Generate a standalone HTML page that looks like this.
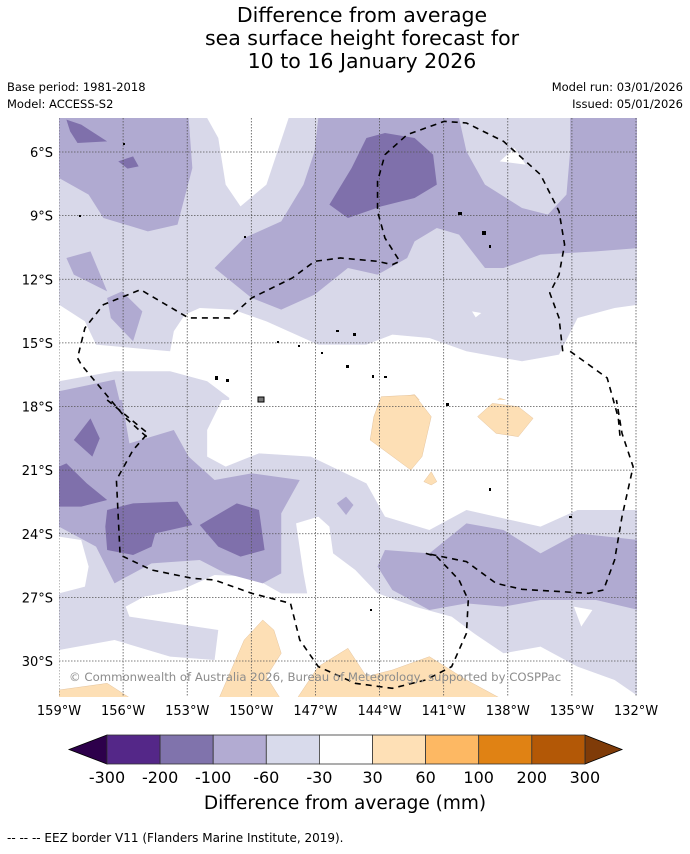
<!DOCTYPE html>
<html><head><meta charset="utf-8"><style>
body{margin:0;background:#fff;width:690px;height:850px;overflow:hidden;font-family:"DejaVu Sans","Liberation Sans",sans-serif;}
svg text{font-family:"DejaVu Sans","Liberation Sans",sans-serif;}
.cond{font-family:"DejaVu Sans Condensed","DejaVu Sans","Liberation Sans",sans-serif;}
</style></head><body>
<svg id="chart" width="690" height="850" xmlns="http://www.w3.org/2000/svg">
<g font-size="20.5" text-anchor="middle" fill="#000">
<text x="362" y="22">Difference from average</text>
<text x="362" y="45">sea surface height forecast for</text>
<text x="362" y="68">10 to 16 January 2026</text>
</g>
<g font-size="11.5" fill="#000">
<text x="7" y="91">Base period: 1981-2018</text>
<text x="7" y="108">Model: ACCESS-S2</text>
<text x="683" y="91" text-anchor="end">Model run: 03/01/2026</text>
<text x="683" y="108" text-anchor="end">Issued: 05/01/2026</text>
</g>
<defs><clipPath id="mapclip"><rect x="59" y="118" width="578" height="579"/></clipPath></defs>
<g clip-path="url(#mapclip)">
<rect x="59" y="118" width="578" height="579" fill="#d8d8e9"/>
<g transform="translate(59,118) scale(0.3704,0.3333)">
<g fill="#fff">
<polygon points="400,0 620,0 560,200 490,265 450,200 430,60"/>
<polygon points="1230,90 1260,140 1190,130"/>
<polygon points="1115,580 1140,585 1125,598"/>
<polygon points="0,560 70,610 100,680 200,690 300,700 310,640 340,590 380,570 470,575 560,610 700,680 830,680 900,650 1000,660 1100,700 1250,730 1350,710 1400,600 1500,570 1565,560 1565,960 440,960 460,840 400,790 300,760 150,760 0,790"/>
</g>
<g fill="#b0aad1">
<polygon points="0,0 350,0 360,150 320,320 240,340 120,300 80,230 0,180"/>
<polygon points="700,0 1080,0 1100,100 1150,200 1250,270 1320,290 1370,230 1380,100 1380,0 1565,0 1565,390 1450,400 1300,410 1200,450 1150,450 1080,350 1020,330 960,370 940,420 860,470 780,450 690,530 600,575 520,540 420,450 500,360 600,310 660,200 690,100"/>
<polygon points="20,420 85,400 130,520 40,470"/>
<polygon points="130,540 170,520 225,580 200,670 140,600"/>
<polygon points="0,820 150,785 175,900 0,900"/>
</g>
<g fill="#7f70ab">
<polygon points="20,5 60,20 130,70 50,75 30,40"/>
<polygon points="160,130 200,115 215,145 185,152"/>
<polygon points="830,60 880,45 960,60 1010,110 1020,200 960,240 870,265 780,300 730,260 790,150"/>
</g>
<g fill="#fddfb5" stroke="#d9b48a" stroke-width="1" vector-effect="non-scaling-stroke">
<polygon points="850,900 900,840 960,830 1000,880 1005,900"/>
<polygon points="1130,900 1190,840 1240,860 1280,900"/>
</g>
</g>
<g transform="translate(59,400) scale(0.3704,0.3333)">
<g fill="#fff">
<polygon points="0,410 60,420 80,500 70,560 0,580"/>
<polygon points="440,0 400,90 400,170 450,200 540,160 680,170 830,250 880,350 1000,390 1100,330 1300,380 1400,330 1565,330 1565,0"/>
<polygon points="180,620 230,590 330,570 420,525 520,530 600,580 670,580 660,520 640,370 700,350 730,380 740,460 800,510 860,580 960,620 1060,650 1120,700 1200,760 1300,740 1400,800 1500,840 1565,890 1565,900 0,900 0,750 150,720 300,770 420,780 430,690 190,650"/>
<polygon points="1390,620 1440,630 1410,680"/>
</g>
<g fill="#b0aad1">
<polygon points="0,0 170,0 190,130 310,90 350,170 420,240 520,220 650,240 600,340 600,520 550,550 450,520 380,480 250,490 150,550 100,440 0,380"/>
<polygon points="750,310 775,290 795,315 775,345"/>
<polygon points="860,500 880,450 1000,460 1100,370 1200,390 1300,460 1400,400 1565,420 1565,630 1450,600 1300,600 1200,620 1100,610 1000,630 900,570"/>
</g>
<g fill="#7f70ab">
<polygon points="40,120 85,55 110,115 90,170"/>
<polygon points="0,200 20,190 75,250 130,300 60,320 0,320"/>
<polygon points="130,330 200,310 320,305 360,375 260,400 250,440 200,465 130,450 125,380"/>
<polygon points="380,375 480,310 540,330 555,450 490,470 430,440"/>
</g>
<g fill="#fddfb5" stroke="#d9b48a" stroke-width="1" vector-effect="non-scaling-stroke">
<polygon points="870,-10 960,-15 1005,50 980,170 950,210 840,120 850,50"/>
<polygon points="1130,50 1170,10 1240,20 1280,55 1240,110 1180,100"/>
<polygon points="985,245 1005,215 1020,245 1005,255"/>
<polygon points="430,900 500,720 550,660 580,690 600,760 560,830 600,900"/>
<polygon points="640,900 700,800 780,745 830,830 900,810 1000,770 1100,840 1200,900"/>
<polygon points="0,870 130,850 200,900 0,900"/>
</g>
</g>
<g id="grid"></g>
<g transform="translate(59,118) scale(0.3704,0.3333)" fill="none" stroke="#000" stroke-width="1.6" stroke-dasharray="6,5">
<polyline vector-effect="non-scaling-stroke" points="1360,700 1350,600 1325,525 1350,470 1365,380 1350,280 1300,170 1200,70 1100,15 1040,10 940,50 880,110 860,190 860,280 880,360 920,430 900,440 860,430 760,420 690,430 630,480 520,540 460,600 350,600 220,515 120,560 70,630 50,720 60,740 180,900 240,960"/>
<polyline vector-effect="non-scaling-stroke" points="1380,700 1480,780 1510,900 1515,960"/>
</g>
<g transform="translate(59,400) scale(0.3704,0.3333)" fill="none" stroke="#000" stroke-width="1.6" stroke-dasharray="6,5">
<polyline vector-effect="non-scaling-stroke" points="130,0 240,100 200,150 155,240 165,465 250,510 360,535 420,540 520,580 625,610 650,720 700,800 800,850 900,865 990,840 1060,800 1100,700 1105,600 1080,540 1020,470 990,460 1100,485 1180,550 1250,568 1430,580 1470,570 1500,480 1520,350 1550,200 1520,100 1505,0"/>
</g>
<g fill="#000">
<rect x="336" y="330" width="3" height="2"/><rect x="353" y="333" width="3" height="3"/><rect x="277" y="341" width="2" height="2"/>
<rect x="298" y="345" width="2" height="2"/><rect x="321" y="352" width="2" height="2"/><rect x="346" y="365" width="3" height="3"/>
<rect x="215" y="376" width="3" height="4"/><rect x="226" y="379" width="3" height="3"/><rect x="258" y="397" width="6" height="5" fill="#777" stroke="#000"/>
<rect x="372" y="375" width="2" height="3"/><rect x="384" y="376" width="3" height="2"/><rect x="446" y="403" width="3" height="3"/>
<rect x="458" y="212" width="4" height="3"/><rect x="482" y="231" width="4" height="4"/><rect x="489" y="245" width="2" height="3"/>
<rect x="489" y="488" width="2" height="3"/><rect x="569" y="516" width="3" height="2"/><rect x="370" y="609" width="2" height="2"/>
<rect x="79" y="215" width="2" height="2"/><rect x="123" y="143" width="2" height="2"/><rect x="244" y="236" width="2" height="2"/>
</g>
<text x="69" y="681" font-size="11.7" fill="#8c8c8c">© Commonwealth of Australia 2026, Bureau of Meteorology, supported by COSPPac</text>
</g>
<g id="axes" class="cond" font-size="13" fill="#000"></g>
<g id="cbar"></g>
<text x="345" y="809" font-size="18.5" text-anchor="middle">Difference from average (mm)</text>
<text x="7" y="842" font-size="12">--  --  -- EEZ border V11 (Flanders Marine Institute, 2019).</text>
</svg>
<script>
const lonTicks=[-159,-156,-153,-150,-147,-144,-141,-138,-135,-132];
const latTicks=[-6,-9,-12,-15,-18,-21,-24,-27,-30];
const cbLevels=[-300,-200,-100,-60,-30,30,60,100,200,300];
const cbColors=["#542788","#8073ac","#b2abd2","#d8daeb","#ffffff","#fee0b6","#fdb863","#e08214","#b35806"];
const cbUnder="#2d004b", cbOver="#7f3b08";
const NS="http://www.w3.org/2000/svg";
function xLon(l){return 59+(l+159)*(577/27);}
function yLat(l){return 152+(-6-l)*(509/24);}
function mk(t,a,p){const e=document.createElementNS(NS,t);for(const k in a)e.setAttribute(k,a[k]);p.appendChild(e);return e;}
const grid=document.getElementById('grid'),axes=document.getElementById('axes');
lonTicks.forEach(l=>{const x=xLon(l);
 const ln=mk('line',{x1:x,x2:x,y1:118,y2:697,stroke:'#555','stroke-width':0.8,'stroke-dasharray':'1.5,1.5'},grid);
 
 
 const t=mk('text',{x:x,y:715,'text-anchor':'middle'},axes);t.textContent=Math.abs(l)+'°W';
 
 });
latTicks.forEach(l=>{const y=yLat(l);
 const ln=mk('line',{x1:59,x2:637,y1:y,y2:y,stroke:'#555','stroke-width':0.8,'stroke-dasharray':'1.5,1.5'},grid);
 
 
 const t=mk('text',{x:53,y:y+5,'text-anchor':'end'},axes);t.textContent=Math.abs(l)+'°S';
 
 });
const cb=document.getElementById('cbar');
const bx0=107,bw=53.1,by=735,bh=29;
function bX(i){return bx0+i*bw;}
const u=mk('polygon',{points:`${bX(0)},${by} ${69},${by+bh/2} ${bX(0)},${by+bh}`,fill:cbUnder,stroke:'#000','stroke-width':0.8},cb);


const o=mk('polygon',{points:`${bX(9)},${by} ${622},${by+bh/2} ${bX(9)},${by+bh}`,fill:cbOver,stroke:'#000','stroke-width':0.8},cb);


cbColors.forEach((c,i)=>{const r=mk('rect',{x:bX(i),y:by,width:bw,height:bh,fill:c,stroke:'#333','stroke-width':0.8},cb);
 
 });
cbLevels.forEach((v,i)=>{const t=mk('text',{x:bX(i),y:783,'font-size':16,'text-anchor':'middle'},cb);t.textContent=v;
 
 });
</script>
</body></html>
